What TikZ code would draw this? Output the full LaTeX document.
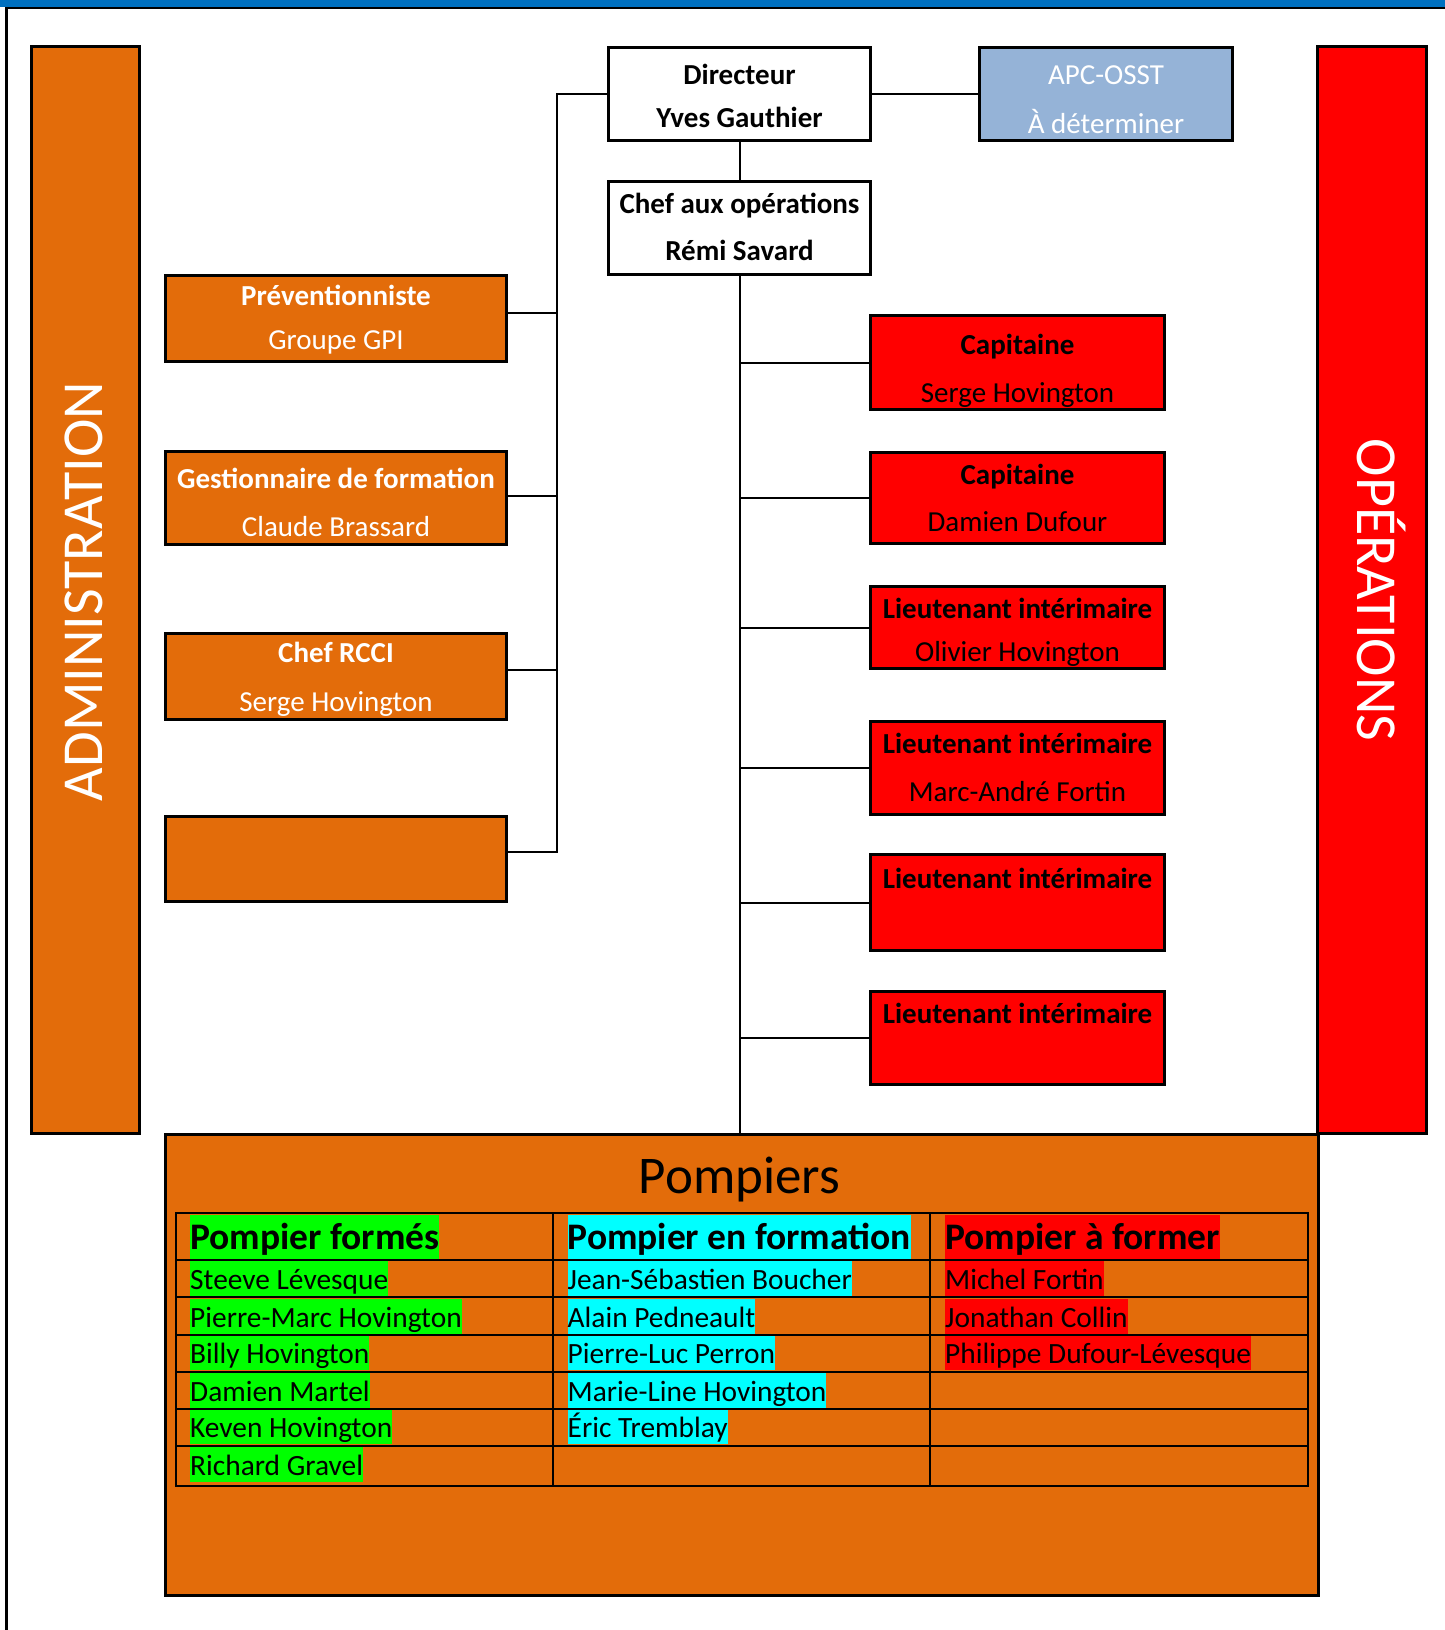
\documentclass[tikz,border=0pt]{standalone}
\usepackage{fontspec}
\setmainfont{Carlito}
\usetikzlibrary{calc}
\definecolor{orgfill}{RGB}{227,108,10}
\definecolor{apcblue}{RGB}{149,179,215}
\definecolor{topblue}{RGB}{0,112,192}
\definecolor{hlgreen}{RGB}{0,255,0}
\definecolor{hlcyan}{RGB}{0,255,255}
\definecolor{hlred}{RGB}{255,0,0}
\definecolor{boxred}{RGB}{255,0,0}
\begin{document}
\begin{tikzpicture}[x=1pt,y=-1pt,
  orgbox/.style={draw=black,line width=3pt,inner sep=0pt,rectangle},
  admbox/.style={orgbox,fill=orgfill,minimum width=341pt},
  opsbox/.style={orgbox,fill=boxred,minimum width=294pt},
  topbox/.style={orgbox,minimum width=262pt,minimum height=93pt},
  bt/.style={inner sep=0pt,anchor=base,yshift=-1.5pt,font=\fontsize{29}{35}\selectfont\bfseries},
  rt/.style={inner sep=0pt,anchor=base,yshift=-1.5pt,font=\fontsize{29}{35}\selectfont},
  conn/.style={draw=black,line width=2pt},
  aconn/.style={draw=black,line width=1.4pt},
  sidetitle/.style={inner sep=0pt,anchor=base,text=white,font=\fontsize{58}{70}\selectfont},
  hdr/.style={inner xsep=0pt,inner ysep=0pt,anchor=base west,font=\fontsize{37.5}{44}\selectfont\bfseries,text height=34pt,text depth=10pt},
  nm/.style={inner xsep=0pt,inner ysep=0pt,anchor=base west,font=\fontsize{29.4}{35}\selectfont,text height=28pt,text depth=7pt},
  tabline/.style={draw=black,line width=1.8pt}
]
\useasboundingbox (0,0) rectangle (1445,1630);
\fill[white] (0,0) rectangle (1445,1630);
% top bar and left border
\fill[topblue] (0,0) rectangle (1445,6.7);
\draw[line width=2.6pt] (5,8) -- (1445,8);
\draw[line width=2.5pt] (6.3,7) -- (6.3,1630);

% side bars
\node[orgbox,fill=orgfill,minimum width=108pt,minimum height=1087pt] (admbar) at (85.5,590) {};
\node[sidetitle,rotate=90] (admtxt) at (102,591.5) {ADMINISTRATION};
\node[orgbox,fill=boxred,minimum width=109pt,minimum height=1087pt] (opsbar) at (1372,590) {};
\node[sidetitle,rotate=-90] (opstxt) at (1357,590) {OPÉRATIONS};

% top boxes
\node[topbox,fill=white] (dir) at (739.5,94) {};
\node[bt] (dirt1) at (739.5,83) {Directeur};
\node[bt] (dirt2) at (739.5,126) {Yves Gauthier};
\node[orgbox,fill=apcblue,minimum width=253pt,minimum height=93pt] (apc) at (1106,94) {};
\node[rt,text=white] (apct1) at (1106,83) {APC-OSST};
\node[rt,text=white] (apct2) at (1106,132) {À déterminer};
\node[topbox,fill=white] (chef) at (739.5,228) {};
\node[bt] (cheft1) at (739.5,212) {Chef aux opérations};
\node[bt] (cheft2) at (739.5,259) {Rémi Savard};

% administration boxes
\node[admbox,minimum height=86pt] (prev) at (336,318.5) {};
\node[bt,text=white] (prevt1) at (336,304) {Préventionniste};
\node[rt,text=white] (prevt2) at (336,348) {Groupe GPI};
\node[admbox,minimum height=93pt] (gest) at (336,498) {};
\node[bt,text=white] (gestt1) at (336,487) {Gestionnaire de formation};
\node[rt,text=white] (gestt2) at (336,535) {Claude Brassard};
\node[admbox,minimum height=86pt] (rcci) at (336,676.5) {};
\node[bt,text=white] (rccit1) at (336,661) {Chef RCCI};
\node[rt,text=white] (rccit2) at (336,710) {Serge Hovington};
\node[admbox,minimum height=85pt] (empty) at (336,859) {};

% operations boxes
\node[opsbox,minimum height=94pt] (cap1) at (1017.5,362.5) {};
\node[bt] (cap1t1) at (1017.5,353) {Capitaine};
\node[rt] (cap1t2) at (1017.5,401) {Serge Hovington};
\node[opsbox,minimum height=91pt] (cap2) at (1017.5,498) {};
\node[bt] (cap2t1) at (1017.5,483) {Capitaine};
\node[rt] (cap2t2) at (1017.5,530) {Damien Dufour};
\node[opsbox,minimum height=82pt] (lt1) at (1017.5,627.5) {};
\node[bt] (lt1t1) at (1017.5,617) {Lieutenant intérimaire};
\node[rt] (lt1t2) at (1017.5,660) {Olivier Hovington};
\node[opsbox,minimum height=93pt] (lt2) at (1017.5,768) {};
\node[bt] (lt2t1) at (1017.5,752) {Lieutenant intérimaire};
\node[rt] (lt2t2) at (1017.5,800) {Marc-André Fortin};
\node[opsbox,minimum height=96pt] (lt3) at (1017.5,902.5) {};
\node[bt] (lt3t1) at (1017.5,887) {Lieutenant intérimaire};
\node[opsbox,minimum height=93pt] (lt4) at (1017.5,1038) {};
\node[bt] (lt4t1) at (1017.5,1022) {Lieutenant intérimaire};

% pompiers box
\node[orgbox,fill=orgfill,minimum width=1153pt,minimum height=461pt] (pomp) at (742,1365) {};
\node[inner sep=0pt,anchor=base,font=\fontsize{53}{60}\selectfont] (ptitle) at (739.5,1193) {Pompiers};

% connectors
\coordinate (admtop) at (557,93);
\coordinate (e1) at ([yshift=5.5pt]prev.east);
\coordinate (e2) at ([yshift=2pt]gest.east);
\coordinate (e3) at ([yshift=6.5pt]rcci.east);
\coordinate (e4) at ([yshift=7pt]empty.east);
\draw[aconn] (dir.west) -| (admtop |- e4) -- (e4);
\draw[aconn] (e1) -- (admtop |- e1);
\draw[aconn] (e2) -- (admtop |- e2);
\draw[aconn] (e3) -- (admtop |- e3);
\draw[conn] (dir.east) -- (apc.west);
\draw[conn] (dir.south) -- (chef.north);
\draw[conn] (chef.south) -- (chef.south |- pomp.north);
\foreach \b in {cap1,cap2,lt1,lt2,lt3,lt4}{
  \draw[conn] (chef.south |- \b.west) -- (\b.west);
}

% table highlights
\node[hdr,fill=hlgreen] (h1) at (190,1249) {Pompier formés};
\node[hdr,fill=hlcyan] (h2) at (567.5,1249) {Pompier en formation};
\node[hdr,fill=hlred] (h3) at (945,1249) {Pompier à former};

\node[nm,fill=hlgreen] (a1) at (190,1289) {Steeve Lévesque};
\node[nm,fill=hlgreen] (a2) at (190,1327) {Pierre-Marc Hovington};
\node[nm,fill=hlgreen] (a3) at (190,1363) {Billy Hovington};
\node[nm,fill=hlgreen] (a4) at (190,1401) {Damien Martel};
\node[nm,fill=hlgreen] (a5) at (190,1437) {Keven Hovington};
\node[nm,fill=hlgreen] (a6) at (190,1475) {Richard Gravel};

\node[nm,fill=hlcyan] (b1) at (567.5,1289) {Jean-Sébastien Boucher};
\node[nm,fill=hlcyan] (b2) at (567.5,1327) {Alain Pedneault};
\node[nm,fill=hlcyan] (b3) at (567.5,1363) {Pierre-Luc Perron};
\node[nm,fill=hlcyan] (b4) at (567.5,1401) {Marie-Line Hovington};
\node[nm,fill=hlcyan] (b5) at (567.5,1437) {Éric Tremblay};

\node[nm,fill=hlred] (c1) at (945,1289) {Michel Fortin};
\node[nm,fill=hlred] (c2) at (945,1327) {Jonathan Collin};
\node[nm,fill=hlred] (c3) at (945,1363) {Philippe Dufour-Lévesque};

% table grid
\draw[tabline] (175.7,1213) rectangle (1308,1486);
\foreach \yy in {1260,1297,1335,1372,1409,1446}{
  \draw[tabline] (175.7,\yy) -- (1308,\yy);
}
\draw[tabline] (553,1213) -- (553,1486);
\draw[tabline] (930,1213) -- (930,1486);
\end{tikzpicture}
\end{document}
